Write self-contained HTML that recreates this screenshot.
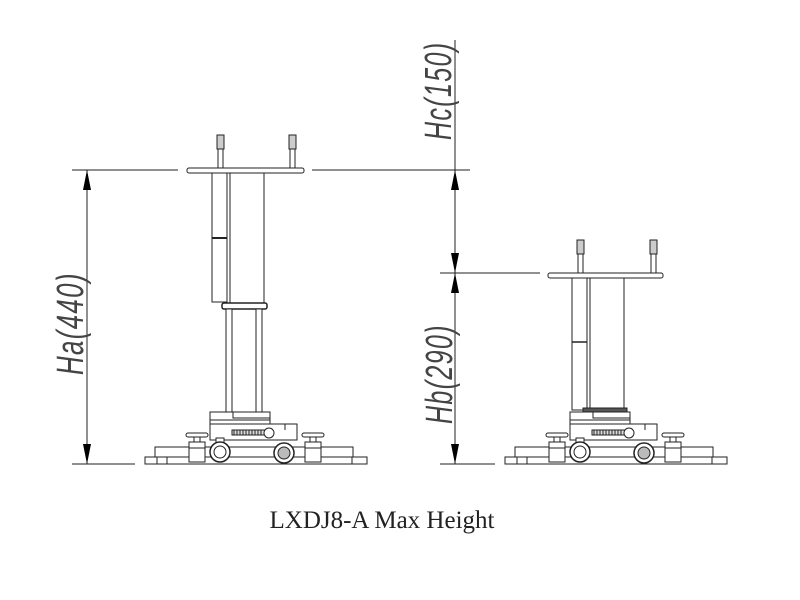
<!DOCTYPE html>
<html><head><meta charset="utf-8"><style>
html,body{margin:0;padding:0;background:#fff;}
svg{display:block}
.t{font-family:"Liberation Sans",sans-serif;font-size:38px;fill:#444;font-weight:normal;font-style:italic;letter-spacing:2px}
</style></head><body>
<svg width="800" height="600" viewBox="0 0 800 600" xmlns="http://www.w3.org/2000/svg">
<defs>
<marker id="a" viewBox="0 0 10 10" refX="10" refY="5" markerWidth="20" markerHeight="8" orient="auto-start-reverse" markerUnits="userSpaceOnUse" preserveAspectRatio="none"><path d="M0,0 L10,5 L0,10 z" fill="#000"/></marker>
<g id="base" fill="#fff" stroke="#222" stroke-width="1">
  <rect x="210" y="412" width="60" height="16"/>
  <line x1="210" y1="420" x2="270" y2="420"/>
  <rect x="233" y="412" width="37" height="6"/>
  <rect x="210" y="424" width="87" height="16"/>
  <line x1="285" y1="424" x2="285" y2="430"/>
  <rect x="232" y="430" width="36" height="5" fill="#ddd"/>
  <path d="M234,430 v5 M237,430 v5 M240,430 v5 M243,430 v5 M246,430 v5 M249,430 v5 M252,430 v5 M255,430 v5 M258,430 v5 M261,430 v5"/>
  <circle cx="269" cy="433" r="5"/>
  <rect x="155" y="447" width="198" height="10"/>
  <rect x="145" y="457" width="222" height="7"/>
  <line x1="157" y1="457" x2="157" y2="464"/><line x1="167" y1="457" x2="167" y2="464"/>
  <line x1="352" y1="457" x2="352" y2="464"/>
  <rect x="186" y="433" width="22" height="4" rx="2"/><rect x="194" y="437" width="6" height="5"/>
  <rect x="189" y="442" width="16" height="20"/><line x1="189" y1="448" x2="205" y2="448"/>
  <rect x="302" y="433" width="22" height="4" rx="2"/><rect x="310" y="437" width="6" height="5"/>
  <rect x="305" y="442" width="16" height="20"/><line x1="305" y1="448" x2="321" y2="448"/>
  <rect x="216" y="438" width="8" height="6"/>
  <circle cx="220" cy="452" r="10" stroke-width="1.5"/><circle cx="220" cy="452" r="6"/>
  <circle cx="284" cy="453" r="10" stroke-width="1.5"/><circle cx="284" cy="453" r="6" fill="#bbb"/>
</g>
<g id="post" fill="#fff" stroke="#222" stroke-width="1">
  <rect x="-2" y="0" width="5" height="33"/>
  <rect x="-3" y="0" width="7" height="14" fill="#ccc"/>
</g>
</defs>

<g stroke="#222" stroke-width="1" fill="none">
  <line x1="72" y1="170" x2="178" y2="170"/>
  <line x1="312" y1="170" x2="470" y2="170"/>
  <line x1="72" y1="464" x2="135" y2="464"/>
  <line x1="440" y1="273" x2="540" y2="273"/>
  <line x1="440" y1="464" x2="495" y2="464"/>
  <line x1="87" y1="170" x2="87" y2="464" marker-start="url(#a)" marker-end="url(#a)"/>
  <line x1="455" y1="40" x2="455" y2="170"/>
  <line x1="455" y1="170" x2="455" y2="273" marker-start="url(#a)" marker-end="url(#a)"/>
  <line x1="455" y1="273" x2="455" y2="464" marker-start="url(#a)" marker-end="url(#a)"/>
</g>
<text class="t" transform="translate(83,375) rotate(-90) scale(0.68,1)">Ha(440)</text>
<text class="t" transform="translate(451,140) rotate(-90) scale(0.66,1)">Hc(150)</text>
<text class="t" transform="translate(452,424) rotate(-90) scale(0.66,1)">Hb(290)</text>

<g fill="#fff" stroke="#222" stroke-width="1">
  <use href="#post" x="220" y="135"/><use href="#post" x="292" y="135"/>
  <rect x="187" y="168" width="117" height="5" rx="2"/>
  <rect x="212" y="173" width="15" height="129"/>
  <line x1="212" y1="238" x2="227" y2="238" stroke-width="2"/>
  <rect x="227" y="173" width="3" height="130"/>
  <line x1="264" y1="173" x2="264" y2="303"/>
  <rect x="222" y="303" width="45" height="6" rx="2" stroke-width="1.5"/>
  <rect x="226" y="309" width="6" height="103"/>
  <rect x="256" y="309" width="6" height="103"/>
  <use href="#base"/>
  <use href="#post" x="580" y="240"/><use href="#post" x="653" y="240"/>
  <rect x="548" y="273" width="115" height="5" rx="2"/>
  <rect x="572" y="278" width="15" height="132"/>
  <line x1="572" y1="342" x2="587" y2="342" stroke-width="1.5"/>
  <rect x="587" y="278" width="3" height="132"/>
  <line x1="624" y1="278" x2="624" y2="410"/>
  <rect x="583" y="408" width="44" height="6" fill="#555"/>
  <use href="#base" x="360"/>
</g>

<text x="382" y="528" text-anchor="middle" font-family="Liberation Serif,serif" font-size="25" fill="#222">LXDJ8-A Max Height</text>
</svg>
</body></html>
